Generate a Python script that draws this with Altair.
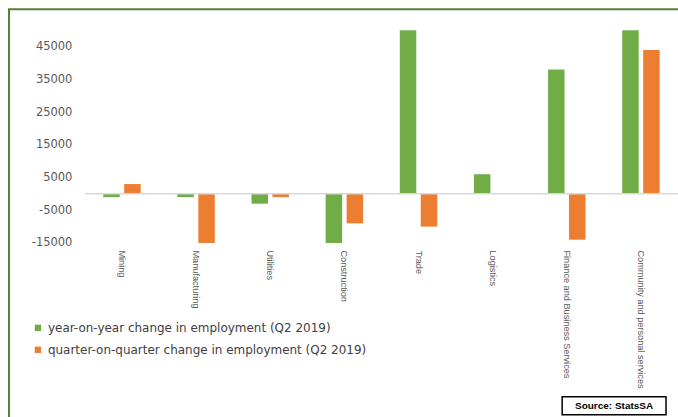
import altair as alt
import pandas as pd

categories = ["Mining", "Manufacturing", "Utilities", "Construction", "Trade",
              "Logistics", "Finance and Business Services", "Community and personal services"]
yoy = [-1000, -1000, -3000, -15000, 50000, 6000, 38000, 50000]
qoq = [3000, -15000, -1000, -9000, -10000, 0, -14000, 44000]
series = ["year-on-year change in employment (Q2 2019)",
          "quarter-on-quarter change in employment (Q2 2019)"]
y_ticks = [-15000, -5000, 5000, 15000, 25000, 35000, 45000]
colors = ["#70AD47", "#ED7D31"]
source_text = "Source: StatsSA"

rows = []
for c, a, b in zip(categories, yoy, qoq):
    rows.append({"category": c, "series": series[0], "value": a})
    rows.append({"category": c, "series": series[1], "value": b})
df = pd.DataFrame(rows)
dummy = pd.DataFrame({"d": [0]})
zero_df = pd.DataFrame({"value": [0]})

W, H = 594, 213
PL, PT = 85, 30

y_axis = alt.Axis(title=None, values=y_ticks, grid=False, domain=False, ticks=False,
                  labelPadding=13, labelFont="DejaVu Sans", labelFontSize=11.5,
                  labelColor="#595959", labelExpr="datum.value + ''",
                  labelOverlap=False)
y_scale = alt.Scale(domain=[-15000, 50000], nice=False, zero=False)

bars = alt.Chart(df).mark_bar().encode(
    x=alt.X("category:N", sort=categories,
            scale=alt.Scale(paddingInner=0.435, paddingOuter=0.2175),
            axis=alt.Axis(title=None, labelAngle=90, labelAlign="left", labelBaseline="middle",
                          labelPadding=7, ticks=False, domain=False, labelFont="Liberation Sans",
                          labelFontSize=9.2, labelColor="#595959", labelLimit=300,
                          labelOverlap=False)),
    xOffset=alt.XOffset("series:N", sort=series,
                        scale=alt.Scale(paddingInner=0.214, paddingOuter=0.107)),
    y=alt.Y("value:Q", scale=y_scale, axis=y_axis),
    color=alt.Color("series:N", sort=series,
                    scale=alt.Scale(domain=series, range=colors),
                    legend=alt.Legend(title=None, orient="none", legendX=-53, legendY=292,
                                      symbolType="square", symbolSize=40, labelFont="DejaVu Sans",
                                      labelFontSize=12, labelColor="#404040", rowPadding=10,
                                      labelOffset=4, symbolStrokeWidth=0, labelLimit=500)),
)

zero = alt.Chart(zero_df).mark_rule(color="#d9d9d9", strokeWidth=1.5).encode(
    y=alt.Y("value:Q", scale=y_scale, axis=y_axis))

border_left = alt.Chart(dummy).mark_rule(color="#548235", strokeWidth=2).encode(
    x=alt.value(-76), y=alt.value(-21), y2=alt.value(400))
border_top = alt.Chart(dummy).mark_rule(color="#548235", strokeWidth=2).encode(
    x=alt.value(-77), x2=alt.value(600), y=alt.value(-21))

src_box = alt.Chart(dummy).mark_rect(fill="white", stroke="black", strokeWidth=1.5).encode(
    x=alt.value(478), x2=alt.value(582), y=alt.value(367), y2=alt.value(385))
src_txt = alt.Chart(dummy).mark_text(text=source_text, font="Liberation Sans", fontWeight="bold",
                                     fontSize=10, align="center", baseline="middle",
                                     color="#000000").encode(x=alt.value(530), y=alt.value(376))

chart = alt.layer(bars, zero, border_left, border_top, src_box, src_txt).properties(
    width=W, height=H,
    autosize=alt.AutoSizeParams(type="none"),
    padding={"left": PL, "top": PT, "right": 0, "bottom": 417 - PT - H},
    background="white",
).configure_view(strokeWidth=0).configure_axis(labelOverlap=False)

chart.save("out.html", embed_options={"renderer": "svg", "actions": False})
